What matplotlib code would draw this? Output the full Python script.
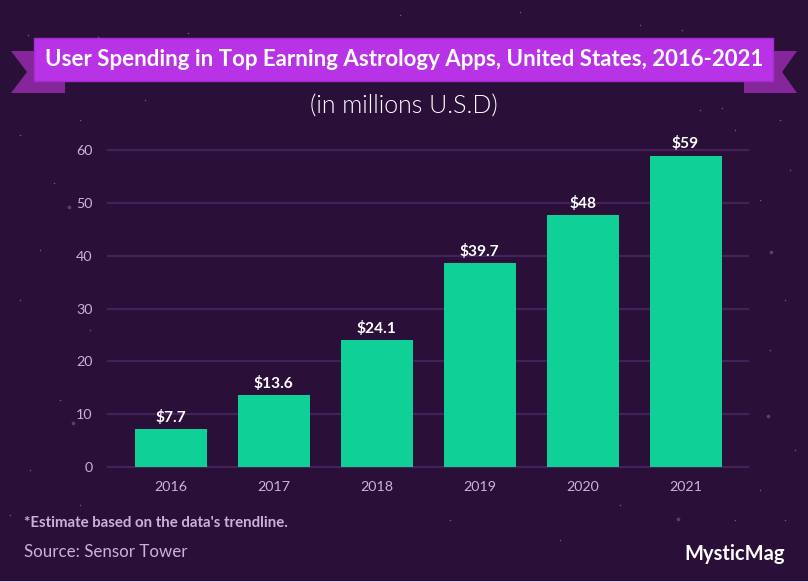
import matplotlib
matplotlib.use("Agg")
import matplotlib.pyplot as plt
from matplotlib.patches import Polygon, Rectangle

plt.rcParams['font.family'] = ['Lato', 'DejaVu Sans']

# Data
years = ['2016', '2017', '2018', '2019', '2020', '2021']
spending = [7.2, 13.6, 24.1, 38.6, 47.7, 59.0]
bar_labels = ['$7.7', '$13.6', '$24.1', '$39.7', '$48', '$59']
y_ticks = [0, 10, 20, 30, 40, 50, 60]

# Brighter background stars, pixel positions
stars_big = [(69, 207), (771, 252), (768, 416), (73, 423), (678, 519), (141, 525)]
stars_small = [(28, 35), (188, 33), (98, 37), (80, 120), (145, 100), (20, 135), (54, 183),
               (20, 300), (40, 250), (90, 330), (60, 400), (30, 470), (80, 505), (10, 515),
               (700, 110), (722, 108), (735, 130), (780, 120), (790, 170), (760, 200),
               (785, 300), (770, 350), (795, 450), (760, 490), (735, 520), (785, 520),
               (400, 15), (520, 12), (640, 25), (682, 30), (450, 520), (560, 540), (620, 505)]

W, H = 808, 582
BG = '#2A1038'
BANNER = '#B833E6'
BANNER_EDGE = '#A52CCF'
TAIL = '#85269A'
BAR = '#0FD198'
GRID = '#45215C'
MUTED = '#CFB0DA'

fig = plt.figure(figsize=(W / 100, H / 100), dpi=100, facecolor=BG)

# Overlay in pixel coordinates for banner, stars and footer
bg = fig.add_axes([0, 0, 1, 1], zorder=0)
bg.set_xlim(0, W)
bg.set_ylim(H, 0)
bg.axis('off')
bg.scatter(*zip(*stars_small), s=1.2, color='#6F5A7C', linewidths=0)
bg.scatter(*zip(*stars_big), s=7, color='#5E3C70', linewidths=0)

bg.add_patch(Polygon([(11, 51), (65, 51), (65, 93), (11, 93), (27, 72)], color=TAIL, lw=0))
bg.add_patch(Polygon([(744, 51), (797, 51), (782, 72), (797, 93), (744, 93)], color=TAIL, lw=0))
bg.add_patch(Rectangle((34, 38), 739, 43, facecolor=BANNER, edgecolor=BANNER_EDGE, lw=1))
bg.add_patch(Rectangle((0, 581), W, 1, color='#D8D0DC', lw=0))
bg.text(404, 59, 'User Spending in Top Earning Astrology Apps, United States, 2016-2021',
        color='white', fontsize=16.05, fontweight='bold', ha='center', va='center')
bg.text(404, 107, '(in millions U.S.D)', color='white', fontsize=18, fontweight=300,
        ha='center', va='center')
bg.text(24, 523, "*Estimate based on the data's trendline.", color=MUTED, fontsize=10.8,
        fontweight='bold', ha='left', va='center')
bg.text(24, 552, 'Source: Sensor Tower', color=MUTED, fontsize=12.15, ha='left', va='center')
bg.text(684, 554, 'MysticMag', color='white', fontsize=14.5, fontweight='bold',
        ha='left', va='center')

# Bar chart, axes box placed on the plot area
left, right, top, bottom = 108, 748, 150.3, 466.8
ax = fig.add_axes([left / W, 1 - bottom / H, (right - left) / W, (bottom - top) / H], zorder=1)
ax.patch.set_alpha(0)
x = list(range(len(years)))
rects = ax.bar(x, spending, width=0.7, color=BAR, zorder=3)
for rect, label in zip(rects, bar_labels):
    ax.annotate(label, xy=(rect.get_x() + rect.get_width() / 2, rect.get_height()),
                xytext=(0, 3), textcoords='offset points', ha='center', va='bottom',
                color='white', fontsize=11.2, fontweight='bold', zorder=4,
                annotation_clip=False)

ax.set_xlim(-0.612, 5.607)
ax.set_ylim(0, 60)
ax.set_xticks(x)
ax.set_xticklabels(years)
ax.set_yticks(y_ticks)
ax.tick_params(axis='x', length=0, pad=10.5, colors=MUTED, labelsize=10.3)
ax.tick_params(axis='y', length=0, pad=11, colors=MUTED, labelsize=10.3)
ax.grid(axis='y', color=GRID, lw=1.6, zorder=1)
for line in ax.get_ygridlines():
    line.set_clip_on(False)
for spine in ax.spines.values():
    spine.set_visible(False)

plt.savefig('out.png', dpi=100, facecolor=BG)
